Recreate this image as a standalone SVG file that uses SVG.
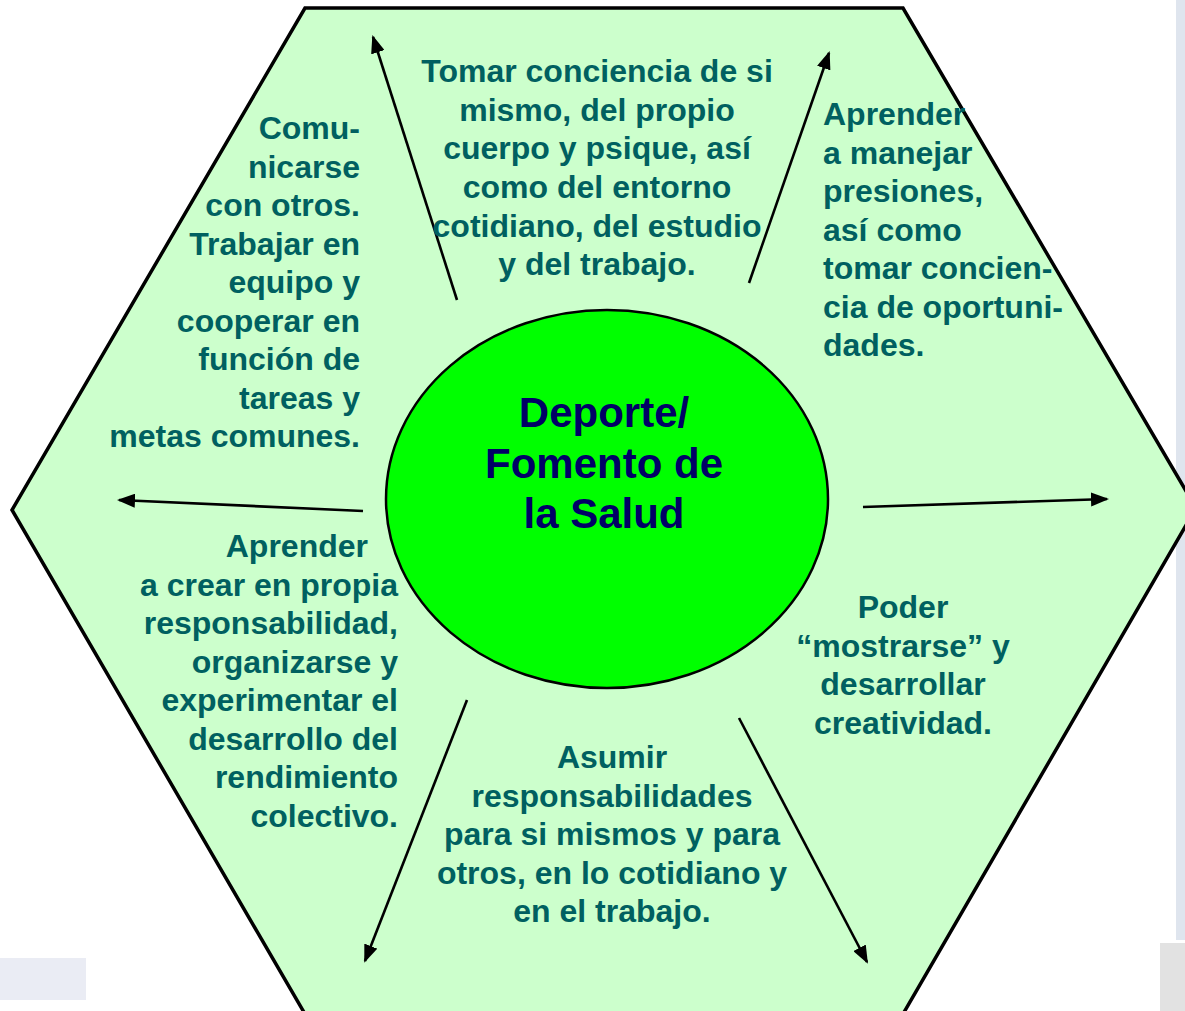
<svg xmlns="http://www.w3.org/2000/svg" width="1185" height="1011" viewBox="0 0 1185 1011">
<style>
.t{font-family:"Liberation Sans",Arial,sans-serif;font-weight:bold;font-size:32px;fill:#006060}
.c{text-anchor:middle}
.r{text-anchor:end}
.hub{font-family:"Liberation Sans",Arial,sans-serif;font-weight:bold;font-size:42px;fill:#000066;text-anchor:middle}
.arr{stroke:#000;stroke-width:2.6;fill:none;marker-end:url(#ah)}
</style>
<defs>
<marker id="ah" viewBox="0 0 18 14" refX="16" refY="7" markerWidth="18" markerHeight="14" markerUnits="userSpaceOnUse" orient="auto">
<path d="M0,0 L18,7 L0,14 z" fill="#000"/>
</marker>
</defs>
<rect width="1185" height="1011" fill="#ffffff"/>
<rect x="1176" y="0" width="9" height="940" fill="#dfe5ee"/>
<rect x="1160" y="943" width="25" height="68" fill="#e2e2e2"/>
<rect x="0" y="958" width="86" height="42" fill="#eaecf4"/>
<g id="hexagon">
<polygon points="305,8 903,8 1196,508 903,1014 305,1014 12,510" fill="#ccffcc" stroke="#000" stroke-width="3.5"/>
</g>
<g id="connectors">
<line class="arr" x1="457" y1="300" x2="373" y2="37"/>
<line class="arr" x1="749" y1="283" x2="829" y2="53"/>
<line class="arr" x1="363" y1="511" x2="119" y2="500"/>
<line class="arr" x1="863" y1="507" x2="1107" y2="499"/>
<line class="arr" x1="467" y1="700" x2="365" y2="961"/>
<line class="arr" x1="739" y1="718" x2="867" y2="962"/>
</g>
<g id="hub">
<ellipse cx="607" cy="499" rx="221" ry="189" fill="#00ff00" stroke="#000" stroke-width="2.5"/>
<text class="hub" x="604" y="427">Deporte/</text>
<text class="hub" x="604" y="478">Fomento de</text>
<text class="hub" x="604" y="528">la Salud</text>
</g>
<g id="node-top">
<text class="t c" x="597" y="82">Tomar conciencia de si</text>
<text class="t c" x="597" y="120.5">mismo, del propio</text>
<text class="t c" x="597" y="159">cuerpo y psique, así</text>
<text class="t c" x="597" y="198">como del entorno</text>
<text class="t c" x="597" y="236.5">cotidiano, del estudio</text>
<text class="t c" x="597" y="275">y del trabajo.</text>
</g>
<g id="node-top-left">
<text class="t r" x="360" y="139">Comu-</text>
<text class="t r" x="360" y="177.5">nicarse</text>
<text class="t r" x="360" y="216">con otros.</text>
<text class="t r" x="360" y="254.5">Trabajar en</text>
<text class="t r" x="360" y="293">equipo y</text>
<text class="t r" x="360" y="331.5">cooperar en</text>
<text class="t r" x="360" y="370">función de</text>
<text class="t r" x="360" y="408.5">tareas y</text>
<text class="t r" x="360" y="447">metas comunes.</text>
</g>
<g id="node-top-right">
<text class="t" x="823" y="125">Aprender</text>
<text class="t" x="823" y="163.5">a manejar</text>
<text class="t" x="823" y="202">presiones,</text>
<text class="t" x="823" y="240.5">así como</text>
<text class="t" x="823" y="279">tomar concien-</text>
<text class="t" x="823" y="317.5">cia de oportuni-</text>
<text class="t" x="823" y="356">dades.</text>
</g>
<g id="node-bottom-left">
<text class="t r" x="368" y="557">Aprender</text>
<text class="t r" x="398" y="595.5">a crear en propia</text>
<text class="t r" x="398" y="634">responsabilidad,</text>
<text class="t r" x="398" y="672.5">organizarse y</text>
<text class="t r" x="398" y="711">experimentar el</text>
<text class="t r" x="398" y="749.5">desarrollo del</text>
<text class="t r" x="398" y="788">rendimiento</text>
<text class="t r" x="398" y="826.5">colectivo.</text>
</g>
<g id="node-bottom">
<text class="t c" x="612" y="768">Asumir</text>
<text class="t c" x="612" y="806.5">responsabilidades</text>
<text class="t c" x="612" y="845">para si mismos y para</text>
<text class="t c" x="612" y="883.5">otros, en lo cotidiano y</text>
<text class="t c" x="612" y="922">en el trabajo.</text>
</g>
<g id="node-bottom-right">
<text class="t c" x="903" y="618">Poder</text>
<text class="t c" x="903" y="656.5">“mostrarse” y</text>
<text class="t c" x="903" y="695">desarrollar</text>
<text class="t c" x="903" y="733.5">creatividad.</text>
</g>
</svg>
